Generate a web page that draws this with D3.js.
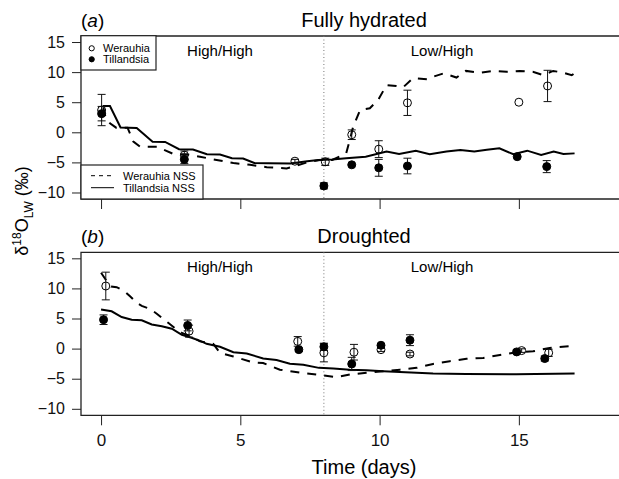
<!DOCTYPE html>
<html>
<head>
<meta charset="utf-8">
<script src="https://d3js.org/d3.v7.min.js"></script>
<style>
  body { margin: 0; background: #fff; }
  svg { font-family: "Liberation Sans", Arial, Helvetica, sans-serif; }
</style>
</head>
<body>
<script>
// measured points, panel a (fully hydrated)
var werDaysA = [0.02, 2.99, 6.96, 8.05, 9.0, 9.97, 11.0, 15.0, 16.03];
var werMeanA = [3.7, -3.8, -4.8, -4.9, -0.4, -2.8, 4.9, 5.0, 7.7];
var werErrA  = [2.6, 0.7, 0.3, 0.6, 0.8, 1.4, 2.1, 0.2, 2.6];
var tilDaysA = [0.02, 2.99, 8.0, 9.0, 9.97, 11.0, 14.94, 16.0];
var tilMeanA = [3.1, -4.5, -8.9, -5.4, -5.9, -5.6, -4.05, -5.7];
var tilErrA  = [1.2, 0.7, 0.5, 0, 1.4, 1.3, 0, 1.0];

// measured points, panel b (droughted)
var werDaysB = [0.17, 3.16, 7.06, 8.0, 9.08, 10.05, 11.09, 15.1, 16.07];
var werMeanB = [10.4, 2.9, 1.2, -0.7, -0.6, -0.17, -0.9, -0.33, -0.7];
var werErrB  = [2.3, 1.0, 0.8, 1.5, 1.3, 0.3, 0.3, 0.3, 0.6];
var tilDaysB = [0.09, 3.11, 7.1, 8.0, 9.0, 10.05, 11.09, 14.92, 15.93];
var tilMeanB = [4.8, 3.85, -0.17, 0.3, -2.55, 0.55, 1.4, -0.55, -1.65];
var tilErrB  = [0.8, 0.9, 0.3, 0.6, 1.1, 0.3, 0.9, 0.3, 0.4];

// non steady state model, panel a
var werNssDaysA = [0.08, 0.17, 0.32, 0.54, 0.95, 1.16, 1.4, 2.0, 2.6, 3.07, 3.55, 4.15, 4.75, 5.35, 5.95, 6.66, 6.9, 7.4, 7.86, 8.3, 8.8, 8.93, 9.05, 9.3, 9.65, 9.95, 10.25, 10.6, 10.85, 11.2, 11.7, 11.93, 12.3, 12.76, 13.1, 13.6, 14.08, 14.56, 15.03, 15.5, 15.87, 16.23, 16.6, 16.9, 17.0];
var werNssA     = [4.15, 2.3, 1.5, 0.77, 0.77, -1.55, -2.4, -2.4, -3.6, -3.65, -4.05, -4.6, -5.1, -5.4, -5.8, -6.0, -5.7, -5.0, -4.6, -4.6, -3.5, -1.3, 0.9, 3.7, 4.0, 5.4, 7.85, 7.7, 7.5, 9.0, 8.8, 9.25, 9.8, 9.1, 10.2, 9.9, 10.2, 10.05, 10.2, 10.05, 9.5, 10.2, 9.9, 9.5, 9.8];
var tilNssDaysA = [0.06, 0.32, 0.7, 1.28, 1.85, 2.3, 2.8, 3.3, 3.8, 4.27, 4.7, 5.1, 5.5, 6.0, 6.8, 7.4, 7.8, 8.3, 8.8, 9.5, 10.25, 10.7, 11.3, 11.8, 12.4, 12.9, 13.4, 13.85, 14.3, 14.8, 15.3, 15.8, 16.25, 16.6, 17.0];
var tilNssA     = [4.35, 4.35, 0.8, 0.7, -1.55, -1.6, -2.8, -2.85, -3.65, -3.7, -4.3, -4.35, -5.1, -5.15, -5.2, -4.8, -4.6, -4.5, -4.3, -4.05, -3.2, -3.6, -3.05, -3.65, -3.2, -2.95, -3.2, -2.9, -2.65, -3.65, -3.05, -3.75, -3.2, -3.6, -3.5];

// non steady state model, panel b
var werNssDaysB = [0.0, 0.25, 0.36, 0.56, 0.85, 1.04, 1.28, 1.46, 1.76, 2.0, 2.24, 2.42, 2.6, 2.9, 3.19, 3.55, 4.03, 4.27, 4.75, 5.46, 5.82, 6.42, 7.14, 7.8, 8.46, 8.93, 9.53, 10.13, 10.73, 11.33, 11.92, 12.52, 13.12, 13.72, 14.32, 14.92, 15.51, 16.1, 16.83, 17.0];
var werNssB     = [12.6, 10.9, 10.3, 10.2, 9.5, 8.7, 7.6, 7.1, 6.6, 5.8, 4.9, 4.25, 3.6, 2.6, 2.1, 1.2, 0.8, -0.7, -1.3, -2.3, -2.4, -3.5, -4.0, -4.35, -4.75, -4.3, -4.0, -3.75, -3.5, -3.2, -2.55, -2.1, -1.7, -1.55, -1.05, -0.6, -0.45, 0.1, 0.4, 0.3];
var tilNssDaysB = [0.0, 0.38, 0.74, 1.1, 1.46, 1.82, 2.18, 2.54, 2.9, 3.25, 3.6, 3.79, 4.27, 4.75, 5.23, 5.82, 6.3, 6.78, 7.26, 7.82, 8.34, 8.93, 9.53, 10.13, 10.73, 11.33, 11.92, 13.1, 14.9, 17.0];
var tilNssB     = [6.5, 6.2, 5.25, 4.8, 4.7, 4.0, 3.7, 3.3, 2.3, 1.8, 1.2, 0.8, 0.3, -0.6, -0.8, -1.65, -1.9, -2.5, -2.7, -3.2, -3.3, -3.5, -3.6, -3.75, -3.9, -4.0, -4.15, -4.2, -4.25, -4.15];

// axis ticks and labels
var xTicks = [0, 5, 10, 15];
var yTicks = [-10, -5, 0, 5, 10, 15];
var switchDay = 8;
var panelTitles = ["Fully hydrated", "Droughted"];
var panelTags = ["a", "b"];

var width = 619, height = 479;

var svg = d3.select("body")
    .append("svg")
    .attr("width", width)
    .attr("height", height);

// shared x scale, box runs past the right edge like the original
var x = d3.scaleLinear().domain([-0.72, 19.6]).range([81, 647]);

var panels = [
    {top: 36, bottom: 199, wer: [werDaysA, werMeanA, werErrA], til: [tilDaysA, tilMeanA, tilErrA],
     werNss: [werNssDaysA, werNssA], tilNss: [tilNssDaysA, tilNssA], labels: false},
    {top: 252.3, bottom: 415.3, wer: [werDaysB, werMeanB, werErrB], til: [tilDaysB, tilMeanB, tilErrB],
     werNss: [werNssDaysB, werNssB], tilNss: [tilNssDaysB, tilNssB], labels: true}
];

function zip(days, vals, errs) {
    return days.map(function(d, i) {
        return {day: d, v: vals[i], e: errs ? errs[i] : 0};
    });
}

panels.forEach(function(p, pi) {
    var y = d3.scaleLinear().domain([-11.08, 16.0]).range([p.bottom, p.top]);
    var g = svg.append("g");

    // plot box (left, top, bottom)
    g.append("path")
        .attr("d", "M" + 647 + "," + p.top + "H" + 81 + "V" + p.bottom + "H" + 647)
        .attr("fill", "none")
        .attr("stroke", "#222")
        .attr("stroke-width", 1.3);

    // y axis
    var ya = g.append("g")
        .attr("transform", "translate(81,0)")
        .call(d3.axisLeft(y).tickValues(yTicks).tickSize(9).tickPadding(7)
            .tickFormat(function(d) { return d < 0 ? "\u2212" + Math.abs(d) : d; }));
    ya.select(".domain").remove();
    ya.selectAll("text").style("font-size", "16px").attr("fill", "#111");
    ya.selectAll("line").attr("stroke", "#222");

    // x axis
    var xa = g.append("g")
        .attr("transform", "translate(0," + p.bottom + ")")
        .call(d3.axisBottom(x).tickValues(xTicks).tickSize(10).tickPadding(9));
    xa.select(".domain").remove();
    xa.selectAll("line").attr("stroke", "#222");
    if (p.labels) {
        xa.selectAll("text").style("font-size", "17px").attr("fill", "#111");
    } else {
        xa.selectAll("text").remove();
    }

    // dotted line at switch day
    g.append("line")
        .attr("x1", x(switchDay)).attr("x2", x(switchDay))
        .attr("y1", p.top).attr("y2", p.bottom)
        .attr("stroke", "#777")
        .attr("stroke-width", 1)
        .attr("stroke-dasharray", "1,2.5");

    // model lines
    var line = d3.line()
        .x(function(d) { return x(d.day); })
        .y(function(d) { return y(d.v); });

    g.append("path")
        .datum(zip(p.tilNss[0], p.tilNss[1]))
        .attr("d", line)
        .attr("fill", "none")
        .attr("stroke", "#000")
        .attr("stroke-width", 2);

    g.append("path")
        .datum(zip(p.werNss[0], p.werNss[1]))
        .attr("d", line)
        .attr("fill", "none")
        .attr("stroke", "#000")
        .attr("stroke-width", 2)
        .attr("stroke-dasharray", "9,8");

    // error bars and points
    [[p.wer, "none"], [p.til, "#000"]].forEach(function(s) {
        var pts = zip(s[0][0], s[0][1], s[0][2]);
        var eb = g.append("g").selectAll("g").data(pts.filter(function(d) { return d.e > 0.25; }))
            .enter().append("g")
            .attr("stroke", "#111")
            .attr("stroke-width", 1);
        eb.append("line")
            .attr("x1", function(d) { return x(d.day); })
            .attr("x2", function(d) { return x(d.day); })
            .attr("y1", function(d) { return y(d.v + d.e); })
            .attr("y2", function(d) { return y(d.v - d.e); });
        eb.append("line")
            .attr("x1", function(d) { return x(d.day) - 4; })
            .attr("x2", function(d) { return x(d.day) + 4; })
            .attr("y1", function(d) { return y(d.v + d.e); })
            .attr("y2", function(d) { return y(d.v + d.e); });
        eb.append("line")
            .attr("x1", function(d) { return x(d.day) - 4; })
            .attr("x2", function(d) { return x(d.day) + 4; })
            .attr("y1", function(d) { return y(d.v - d.e); })
            .attr("y2", function(d) { return y(d.v - d.e); });

        g.append("g").selectAll("circle").data(pts)
            .enter().append("circle")
            .attr("cx", function(d) { return x(d.day); })
            .attr("cy", function(d) { return y(d.v); })
            .attr("r", 4)
            .attr("fill", s[1])
            .attr("stroke", "#000")
            .attr("stroke-width", 1);
    });

    // phase labels
    g.append("text")
        .attr("x", 220).attr("y", p.top + 20)
        .attr("text-anchor", "middle")
        .style("font-size", "15px")
        .text("High/High");
    g.append("text")
        .attr("x", 442).attr("y", p.top + 20)
        .attr("text-anchor", "middle")
        .style("font-size", "15px")
        .text("Low/High");

    // panel title and tag
    g.append("text")
        .attr("x", 364).attr("y", p.top - 9.5)
        .attr("text-anchor", "middle")
        .style("font-size", "20px")
        .text(panelTitles[pi]);
    var tag = g.append("text")
        .attr("x", 81).attr("y", p.top - 9.5)
        .style("font-size", "19px");
    tag.append("tspan").text("(");
    tag.append("tspan").style("font-style", "italic").text(panelTags[pi]);
    tag.append("tspan").text(")");
});

// legend for points (panel a, top left)
var lg1 = svg.append("g");
lg1.append("rect")
    .attr("x", 81).attr("y", 35.7).attr("width", 75).attr("height", 34.3)
    .attr("fill", "#fff").attr("stroke", "#222").attr("stroke-width", 1.2);
[["Werauhia", "none", 48.3], ["Tillandsia", "#000", 59.3]].forEach(function(d) {
    lg1.append("circle")
        .attr("cx", 91.7).attr("cy", d[2]).attr("r", 2.6)
        .attr("fill", d[1]).attr("stroke", "#000").attr("stroke-width", 1);
    lg1.append("text")
        .attr("x", 103).attr("y", d[2] + 4)
        .style("font-size", "11px")
        .text(d[0]);
});

// legend for model lines (panel a, bottom left)
var lg2 = svg.append("g");
lg2.append("rect")
    .attr("x", 81).attr("y", 165).attr("width", 122).attr("height", 34)
    .attr("fill", "#fff").attr("stroke", "#222").attr("stroke-width", 1.2);
[["Werauhia NSS", "4,4", 175.7], ["Tillandsia NSS", null, 187.7]].forEach(function(d) {
    lg2.append("line")
        .attr("x1", 91).attr("x2", 114)
        .attr("y1", d[2]).attr("y2", d[2])
        .attr("stroke", "#000").attr("stroke-width", 1)
        .attr("stroke-dasharray", d[1]);
    lg2.append("text")
        .attr("x", 123).attr("y", d[2] + 4)
        .style("font-size", "11px")
        .text(d[0]);
});

// axis titles
svg.append("text")
    .attr("x", 364).attr("y", 474)
    .attr("text-anchor", "middle")
    .style("font-size", "20px")
    .text("Time (days)");

var yl = svg.append("text")
    .attr("transform", "translate(28,211) rotate(-90)")
    .attr("text-anchor", "middle")
    .style("font-size", "18px");
yl.append("tspan").text("\u03b4");
yl.append("tspan").attr("dy", -7).style("font-size", "12px").text("18");
yl.append("tspan").attr("dy", 7).text("O");
yl.append("tspan").attr("dy", 5).style("font-size", "12px").text("LW");
yl.append("tspan").attr("dy", -5).text(" (\u2030)");
</script>
</body>
</html>
